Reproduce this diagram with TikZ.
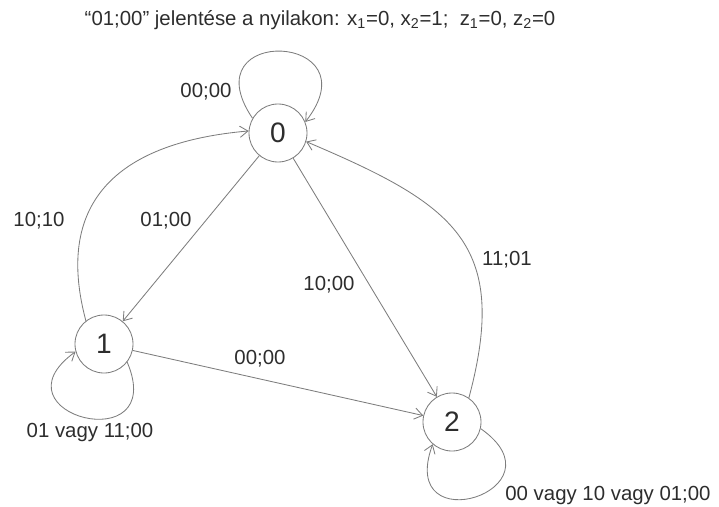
\documentclass[tikz,border=0pt]{standalone}
\usepackage{fontspec}
\setmainfont{Liberation Sans}
\usepackage{xcolor}
\usetikzlibrary{arrows.meta}
\definecolor{linegray}{RGB}{125,125,125}
\definecolor{textgray}{RGB}{45,45,45}

\begin{document}
\begin{tikzpicture}[
  x=0.025cm, y=-0.025cm,
  font=\fontsize{14.5}{17}\selectfont,
  state/.style={draw=linegray, line width=0.6pt, circle, minimum size=1.45cm, inner sep=0pt, text=textgray, font=\fontsize{20}{22}\selectfont},
  trans/.style={draw=linegray, line width=0.6pt, -{Straight Barb[length=2mm,width=2.8mm]}},
  lbl/.style={text=textgray, inner sep=0pt}
]
\useasboundingbox (0,0) rectangle (719,507);

\node[lbl] (title) at (320,20) {“01;00” jelentése a nyilakon: x\textsubscript{1}=0, x\textsubscript{2}=1;\ \ z\textsubscript{1}=0, z\textsubscript{2}=0};

\node[state] (s0) at (278,133) {0};
\node[state] (s1) at (104,344) {1};
\node[state] (s2) at (452,422) {2};

% hurkok
\draw[trans] (s0.150) to[out=124,in=52,looseness=5.5] (s0.22);
\draw[trans] (s1.-38) to[out=-67,in=216,looseness=5.2] (s1.195);
\draw[trans] (s2.-13) to[out=-35,in=250,looseness=5.4] (s2.229);

% atmenetek
\draw[trans] (s0) -- (s1);
\draw[trans] (s0) -- (s2);
\draw[trans] (s1) -- (s2);
\draw[trans] (s1.128) to[out=105,in=185,looseness=1.3] (s0.176);
\draw[trans] (s2.55) to[out=75,in=337,looseness=1.35] (s0.-17);

\node[lbl] (l00a) at (206,92) {00;00};
\node[lbl] (l1010) at (39,221) {10;10};
\node[lbl] (l0100) at (166,221) {01;00};
\node[lbl] (l1000) at (329,285) {10;00};
\node[lbl] (l1101) at (507,260) {11;01};
\node[lbl] (l00b) at (260,359) {00;00};
\node[lbl] (l1h) at (90,432) {01 vagy 11;00};
\node[lbl] (l2h) at (608,495) {00 vagy 10 vagy 01;00};

\end{tikzpicture}
\end{document}
